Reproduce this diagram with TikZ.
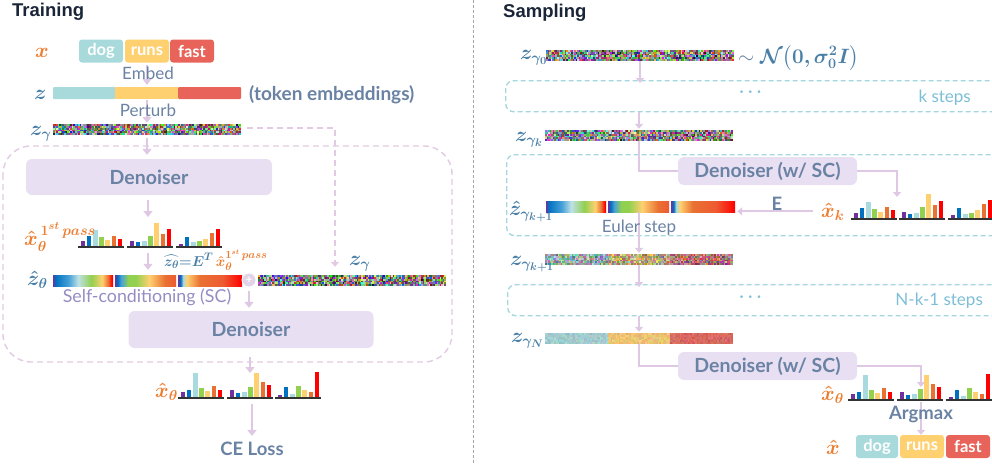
\documentclass[tikz,border=0pt]{standalone}
\usepackage{amsmath,bm}
\usepackage[no-math]{fontspec}
\setmainfont{Lato}
\newfontfamily\titlefont{Liberation Sans}
\usetikzlibrary{arrows.meta}
\definecolor{slate}{RGB}{106,130,163}
\definecolor{titlec}{RGB}{26,38,56}
\definecolor{orangec}{RGB}{237,125,49}
\definecolor{bluec}{RGB}{74,128,168}
\definecolor{denfill}{RGB}{232,224,242}
\definecolor{flowc}{RGB}{222,200,228}
\definecolor{scboxc}{RGB}{226,202,226}
\definecolor{stepboxc}{RGB}{164,216,222}
\definecolor{steptext}{RGB}{125,190,215}
\definecolor{sctext}{RGB}{150,140,195}
\definecolor{plusc}{RGB}{226,212,232}
\definecolor{tokdog}{RGB}{168,218,220}
\definecolor{tokruns}{RGB}{255,208,112}
\definecolor{tokfast}{RGB}{232,100,90}
\definecolor{bar1}{RGB}{112,48,160}
\definecolor{bar2}{RGB}{0,112,192}
\definecolor{bar3}{RGB}{168,218,224}
\definecolor{bar4}{RGB}{146,208,80}
\definecolor{bar5}{RGB}{255,208,112}
\definecolor{bar6}{RGB}{233,113,50}
\definecolor{bar7}{RGB}{255,0,0}
\definecolor{rblue}{RGB}{70,160,215}
\definecolor{rpale}{RGB}{190,225,230}
\definecolor{rorng}{RGB}{238,90,50}
\colorlet{inkmuted}{black!35}
\pgfdeclarehorizontalshading{rainA}{100bp}{color(0bp)=(bar1); color(25bp)=(bar1); color(27bp)=(bar2); color(38bp)=(rblue); color(46bp)=(rpale); color(57bp)=(bar4); color(66bp)=(bar5); color(71bp)=(bar6); color(74bp)=(bar7); color(100bp)=(bar7)}
\pgfdeclarehorizontalshading{rainB}{100bp}{color(0bp)=(bar1); color(25bp)=(bar1); color(27bp)=(bar2); color(30bp)=(rblue); color(36bp)=(bar4); color(42bp)=(bar4); color(53bp)=(bar5); color(66bp)=(bar6); color(75bp)=(rorng); color(100bp)=(rorng)}
\pgfdeclarehorizontalshading{rainC}{100bp}{color(0bp)=(bar1); color(25bp)=(bar1); color(27bp)=(bar2); color(29bp)=(bar3); color(32bp)=(bar5); color(42bp)=(bar6); color(60bp)=(rorng); color(75bp)=(bar7); color(100bp)=(bar7)}
\pgfmathsetseed{7}
\newcommand\probgroup[3]{%
  \foreach \h [count=\k] in {#3}
    \fill[bar\k] ({#1+2.5+(\k-1)*6.2},#2) rectangle ++(4.6,-\h);
  \draw[line width=1.8pt, black!80] (#1,#2+0.9) -- ++(46,0);}
\newcommand\noisebar[6]{%
  \foreach \s/\c in {0/#4,1/#5,2/#6}
    \foreach \i in {0,...,39}
      \foreach \j in {0,...,5}{
        \pgfmathsetmacro\ra{rnd}\pgfmathsetmacro\ga{rnd}\pgfmathsetmacro\ba{rnd}
        \definecolor{speck}{rgb}{\ra,\ga,\ba}
        \fill[speck!#3!\c] ({#1+\s*62.67+\i*1.567},{#2+\j*1.833}) rectangle ++(1.65,1.9);
      }}
\newcommand\rainbar[2]{%
  \shade[shading=rainA] (#1,#2) rectangle ++(60,11);
  \shade[shading=rainB] (#1+62,#2) rectangle ++(61,11);
  \shade[shading=rainC] (#1+125,#2) rectangle ++(64,11);}

\begin{document}
\begin{tikzpicture}[x=1pt, y=-1pt,
  title/.style={font=\titlefont\bfseries\fontsize{18.5}{21}\selectfont, text=titlec, inner sep=0pt},
  tok/.style={rounded corners=3pt, minimum height=23pt, inner sep=0pt, text=white, font=\fontsize{16.5}{18}\selectfont\bfseries},
  den/.style={rounded corners=6pt, fill=denfill, inner sep=0pt, text=slate, font=\fontsize{19.5}{22}\selectfont\bfseries},
  txt/.style={text=slate, inner sep=0pt, font=\fontsize{17}{20}\selectfont},
  txtb/.style={txt, font=\fontsize{18.5}{21}\selectfont\bfseries},
  mlab/.style={anchor=base west, inner sep=0pt, font=\fontsize{22}{26}\selectfont},
  slot/.style={rectangle, inner sep=0pt},
  flow/.style={draw=flowc, line width=2.8pt, -{Triangle[width=9pt,length=6pt]}},
  thinflow/.style={draw=flowc, line width=2pt, -{Triangle[width=8pt,length=5pt]}},
  link/.style={draw=flowc, line width=2pt},
  skipflow/.style={draw=scboxc, line width=1.6pt, dash pattern=on 6pt off 4pt, -{Triangle[width=8pt,length=5pt]}},
  stepbox/.style={draw=stepboxc, line width=1.4pt, dash pattern=on 5pt off 3pt, rounded corners=8pt, inner sep=0pt, anchor=north west},
  steptxt/.style={text=steptext, inner sep=0pt, font=\fontsize{17}{20}\selectfont}]
\useasboundingbox (0,0) rectangle (992,463);
\clip (0,0) rectangle (992,463);
\draw[inkmuted, line width=1pt, dash pattern=on 3pt off 2pt] (473,0) -- (473,463);
\node[title, anchor=west] (ttrain) at (12,12) {Training};
\node[title, anchor=west] (tsamp) at (503,13) {Sampling};

\node[mlab, text=orangec] (lx) at (35,57) {$\bm{x}$};
\node[tok, fill=tokdog, minimum width=44pt] (dog) at (101,51) {dog};
\node[tok, fill=tokruns, minimum width=44pt] (runs) at (147,51) {runs};
\node[tok, fill=tokfast, minimum width=44pt] (fast) at (192,51) {fast};
\fill[tokdog, rounded corners=1pt] (53,87) rectangle (115,99);
\fill[tokruns] (115,87) rectangle (178,99);
\fill[tokfast, rounded corners=1pt] (178,87) rectangle (241,99);
\node[slot, minimum width=188pt, minimum height=12pt] (z) at (147,93) {};
\node[mlab, text=bluec] (lz) at (34,99) {$\bm{z}$};
\node[txtb, anchor=west, font=\fontsize{19}{22}\selectfont\bfseries] (temb) at (249,95) {(token embeddings)};
\noisebar{53}{124}{95}{tokdog}{tokruns}{tokfast}
\node[slot, minimum width=188pt, minimum height=11pt] (zg) at (147,129.5) {};
\node[mlab, text=bluec] (lzg) at (30,135) {$\bm{z_\gamma}$};
\draw[flow, shorten <=2pt, shorten >=2pt] (runs.south) -- (z.north);
\draw[flow, shorten <=1pt, shorten >=1pt] (z.south) -- (zg.north);
\node[txt] (embed) at (148,73) {Embed};
\node[txt] (perturb) at (148,110) {Perturb};

\draw[draw=scboxc, line width=1.4pt, dash pattern=on 6pt off 4pt, rounded corners=28pt] (3,146) rectangle (452,362);
\node[den, minimum width=246pt, minimum height=36pt] (den1) at (149,177) {Denoiser};
\draw[flow, shorten <=3pt, shorten >=4pt] (zg.south) -- (zg.south |- den1.north);
\probgroup{78}{246}{5,10,16,9,6,10,7}
\probgroup{127}{246}{5,4,5,10,23,12,17}
\probgroup{176}{246}{2,9,4,5,7,13,17}
\coordinate (p1in) at (148,217);
\coordinate (p1out) at (148,253);
\draw[flow, shorten <=5pt] (p1in |- den1.south) -- (p1in);
\node[mlab, text=orangec] (lx1) at (24,245) {$\bm{\hat{x}_\theta^{\,1^{st}\,pass}}$};
\node[anchor=base west, inner sep=0pt, font=\fontsize{15}{18}\selectfont] (lzdef) at (164,266) {$\color{bluec}\bm{\widehat{z_\theta}{=}E^T}\,\color{orangec}\bm{\hat{x}_\theta^{1^{st}\,pass}}$};

\rainbar{53}{275}
\node[slot, minimum width=189pt, minimum height=11pt] (zh) at (147.5,280.5) {};
\draw[flow, shorten >=5pt] (p1out) -- (p1out |- zh.north);
\node[mlab, text=bluec] (lzh) at (27,285) {$\bm{\hat{z}_\theta}$};
\node[circle, fill=plusc, draw=white, line width=0.8pt, minimum size=14pt, inner sep=0pt, text=white, font=\fontsize{11}{12}\selectfont\bfseries] (plus) at (249,280) {+};
\noisebar{258}{275}{95}{tokdog}{tokruns}{tokfast}
\node[slot, minimum width=189pt, minimum height=11pt] (zgr) at (352.5,280.5) {};
\node[mlab, text=bluec] (lzgr) at (349,265) {$\bm{z_\gamma}$};
\coordinate (skip) at (335,128);
\draw[skipflow, shorten <=6pt, shorten >=8pt] (zg.east |- skip) -- (skip) -- (skip |- zgr.north);
\node[den, minimum width=245pt, minimum height=37pt] (den2) at (251,329.5) {Denoiser};
\draw[flow, shorten <=4pt, shorten >=3pt] (plus.south) -- (plus.south |- den2.north);
\node[txt, text=sctext, font=\fontsize{17.8}{20}\selectfont] (sclab) at (147,297) {Self-conditioning (SC)};

\probgroup{178}{397}{5,7,24,9,6,11,7}
\probgroup{227}{397}{7,4,5,10,24,15,12}
\probgroup{275}{397}{2,10,3,11,7,5,25}
\coordinate (p2in) at (250,373);
\coordinate (p2out) at (252,404);
\draw[flow, shorten <=9pt] (p2in |- den2.south) -- (p2in);
\node[mlab, text=orangec] (lx2) at (155,397) {$\bm{\hat{x}_\theta}$};
\node[txtb] (ce) at (252,449) {CE Loss};
\draw[flow, shorten >=6pt] (p2out) -- (p2out |- ce.north);

\noisebar{546}{50}{95}{tokdog}{tokruns}{tokfast}
\node[slot, minimum width=188pt, minimum height=11pt] (zg0) at (640,55.5) {};
\node[mlab, text=bluec] (lzg0) at (520,59) {$\bm{z_{\gamma_0}}$};
\node[mlab, text=bluec, font=\fontsize{20}{24}\selectfont] (prior) at (738,63) {$\color{slate}\sim\color{bluec}\bm{\mathcal{N}\big(0,\sigma_0^2 I\big)}$};
\node[stepbox, minimum width=500pt, minimum height=31pt] (kbox) at (505,80) {};
\node[steptxt] (kdots) at (752,92) {$\bm{\cdots}$};
\node[steptxt, anchor=east] (klab) at (971,98) {k steps};
\draw[thinflow] (zg0.south) -- ([yshift=-3pt]zg0.south |- kbox.north);
\noisebar{545}{130}{88}{tokdog}{tokruns}{tokfast}
\node[slot, minimum width=188pt, minimum height=11pt] (zgk) at (639,135.5) {};
\node[mlab, text=bluec] (lzgk) at (515,141) {$\bm{z_{\gamma_k}}$};
\draw[thinflow, shorten >=1pt] (zgk.north |- kbox.south) -- (zgk.north);

\node[stepbox, minimum width=500pt, minimum height=81pt] (sbox) at (506,154) {};
\node[den, minimum width=179pt, minimum height=28pt] (den3) at (767.5,171) {Denoiser (w/ SC)};
\draw[link] (zgk.south) |- (den3.west);
\coordinate (xkin) at (897,197);
\draw[thinflow] (den3.east) -| (xkin);
\probgroup{851}{218}{5,10,16,9,6,11,8}
\probgroup{899}{218}{6,4,5,11,24,13,17}
\probgroup{948}{218}{3,10,4,5,8,14,18}
\node[mlab, text=orangec] (lxk) at (821,217) {$\bm{\hat{x}_k}$};
\rainbar{546}{201}
\node[slot, minimum width=189pt, minimum height=11pt] (zhk) at (640.5,206.5) {};
\draw[thinflow, shorten <=8pt, shorten >=2pt] (lxk.west) -- (lxk.west -| zhk.east);
\node[txtb] (elab) at (777,204) {E};
\node[mlab, text=bluec] (lzhk) at (509,215) {$\bm{\hat{z}_{\gamma_{k+1}}}$};
\noisebar{545}{254}{55}{tokdog}{tokruns}{tokfast}
\node[slot, minimum width=188pt, minimum height=11pt] (zgk1) at (639,259.5) {};
\draw[thinflow, shorten >=1pt] (zgk1.north |- zhk.south) -- (zgk1.north);
\node[txt] (euler) at (639,228) {Euler step};
\node[mlab, text=bluec] (lzgk1) at (510,265) {$\bm{z_{\gamma_{k+1}}}$};
\node[stepbox, minimum width=500pt, minimum height=31pt] (nbox) at (507,284) {};
\node[steptxt] (ndots) at (752,297) {$\bm{\cdots}$};
\node[steptxt, anchor=east] (nlab) at (983,301) {N-k-1 steps};
\draw[thinflow] (zgk1.south) -- ([yshift=-3pt]zgk1.south |- nbox.north);

\noisebar{545}{333}{15}{tokdog}{tokruns}{tokfast}
\node[slot, minimum width=188pt, minimum height=11pt] (zgN) at (639,338.5) {};
\draw[thinflow, shorten >=1pt] (zgN.north |- nbox.south) -- (zgN.north);
\node[mlab, text=bluec] (lzgN) at (511,342) {$\bm{z_{\gamma_N}}$};
\node[den, minimum width=179pt, minimum height=28pt] (den4) at (767.5,366) {Denoiser (w/ SC)};
\draw[link] (zgN.south) |- (den4.west);
\coordinate (xthin) at (921,387);
\draw[thinflow] (den4.east) -| (xthin);
\probgroup{848}{399}{5,7,24,9,6,11,7}
\probgroup{897}{399}{7,4,5,10,24,15,12}
\probgroup{946}{399}{2,9,3,11,7,5,25}
\node[mlab, text=orangec] (lxthr) at (821,400) {$\bm{\hat{x}_\theta}$};
\coordinate (xthout) at (921,402);
\node[tok, fill=tokdog, minimum width=42pt] (hdog) at (877,446.5) {dog};
\node[tok, fill=tokruns, minimum width=44pt] (hruns) at (922,446.5) {runs};
\node[tok, fill=tokfast, minimum width=44pt] (hfast) at (968,446.5) {fast};
\draw[thinflow] (xthout) -- (xthout |- hruns.north);
\node[txtb] (argmax) at (921,414) {Argmax};
\node[mlab, text=orangec] (lxh) at (826,454) {$\bm{\hat{x}}$};
\end{tikzpicture}
\end{document}
